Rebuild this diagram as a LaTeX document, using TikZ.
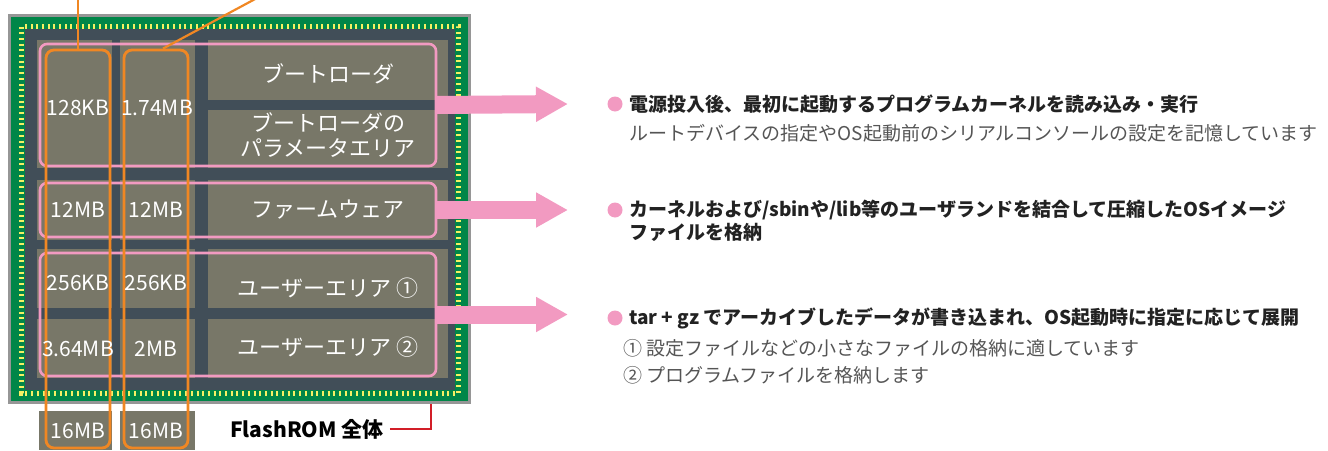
\documentclass[tikz,border=0pt]{standalone}
\usepackage{fontspec}
\setmainfont{Noto Sans CJK JP}
\usetikzlibrary{arrows.meta}
\definecolor{chipgreen}{RGB}{0,134,72}
\definecolor{chipedge}{RGB}{150,150,150}
\definecolor{chipdark}{RGB}{65,78,88}
\definecolor{cellc}{RGB}{120,119,104}
\definecolor{dotc}{RGB}{246,240,100}
\definecolor{pinkc}{RGB}{242,154,193}
\definecolor{orangec}{RGB}{240,135,35}
\definecolor{redc}{RGB}{210,30,40}
\definecolor{txtdark}{RGB}{34,34,34}
\definecolor{txtlight}{RGB}{85,85,85}
\begin{document}
\begin{tikzpicture}[x=1pt,y=-1pt,
  pinkbox/.style={draw=pinkc, line width=2.6pt, rounded corners=7pt, inner sep=0pt},
  orangebox/.style={draw=orangec, line width=2.8pt, rounded corners=8pt, inner sep=0pt},
  celltxt/.style={text=white, inner sep=0pt, font=\fontsize{22}{26}\selectfont},
  numtxt/.style={text=white, inner sep=0pt, font=\fontsize{21}{25}\selectfont},
  headtxt/.style={text=txtdark, anchor=west, inner sep=0pt, font=\fontsize{19}{23}\selectfont\bfseries},
  subtxt/.style={text=txtlight, anchor=west, inner sep=0pt, font=\fontsize{19}{23}\selectfont},
  bigarrow/.style={draw=pinkc, line width=18pt, -{Triangle[length=32pt,width=33pt]}},
  bullet/.style={circle, fill=pinkc, minimum size=15pt, inner sep=0pt}]
\useasboundingbox (0,0) rectangle (1328,450);

% chip body
\node[draw=chipedge, line width=3pt, fill=chipgreen, minimum width=460pt, minimum height=387pt, inner sep=0pt] (chip) at (239.5,209) {};
\draw[dotc, line width=5pt, dash pattern=on 2pt off 3.7pt] (21.5,26.5) rectangle (458.5,393);
\fill[chipdark] (25,29) rectangle (455,390);

% cells
\fill[cellc] (37,40) rectangle (112,168);
\fill[cellc] (120,40) rectangle (195,168);
\fill[cellc] (208,40) rectangle (448,100);
\fill[cellc] (208,110) rectangle (448,168);
\fill[cellc] (37,180) rectangle (112,240);
\fill[cellc] (120,180) rectangle (195,240);
\fill[cellc] (208,180) rectangle (448,240);
\fill[cellc] (37,249) rectangle (112,308);
\fill[cellc] (120,249) rectangle (195,308);
\fill[cellc] (208,249) rectangle (448,308);
\fill[cellc] (37,319) rectangle (112,378);
\fill[cellc] (120,319) rectangle (195,378);
\fill[cellc] (208,319) rectangle (448,378);
\fill[cellc] (39,411) rectangle (112,450);
\fill[cellc] (120,411) rectangle (195,450);

% pink groups
\node[pinkbox, minimum width=396pt, minimum height=122pt] (bA) at (238,105) {};
\node[pinkbox, minimum width=396pt, minimum height=54pt] (bB) at (238,210) {};
\node[pinkbox, minimum width=396pt, minimum height=123pt] (bC) at (238,314.5) {};

% orange columns
\node[orangebox, minimum width=64pt, minimum height=398pt] (o1) at (78,249) {};
\node[orangebox, minimum width=64pt, minimum height=398pt] (o2) at (156,249) {};
\coordinate (o1top) at (78,-2);
\coordinate (o2top) at (257,-2);
\draw[orangec, line width=2.2pt] (o1.north) -- (o1top);
\draw[orangec, line width=2.2pt] ([xshift=7pt]o2.north) -- (o2top);

% cell labels
\node[celltxt] (lboot) at (328,74) {ブートローダ};
\node[celltxt] (lpar1) at (328,123) {ブートローダの};
\node[celltxt] (lpar2) at (328,148) {パラメータエリア};
\node[celltxt] (lfw) at (328,210) {ファームウェア};
\node[celltxt] (lu1) at (328,288) {ユーザーエリア ①};
\node[celltxt] (lu2) at (328,347) {ユーザーエリア ②};

\node[numtxt] (n1) at (78,108) {128KB};
\node[numtxt] (n2) at (157,108) {1.74MB};
\node[numtxt] (n3) at (78,210) {12MB};
\node[numtxt] (n4) at (156,210) {12MB};
\node[numtxt] (n5) at (78,283) {256KB};
\node[numtxt] (n6) at (156,283) {256KB};
\node[numtxt] (n7) at (78,349) {3.64MB};
\node[numtxt] (n8) at (156,349) {2MB};
\node[numtxt] (n9) at (78,431) {16MB};
\node[numtxt] (n10) at (156,431) {16MB};

% FlashROM label
\node[text=black, inner sep=0pt, anchor=west, font=\fontsize{21}{25}\selectfont\bfseries] (flash) at (230,429) {FlashROM 全体};
\coordinate (rc) at (431,404);
\draw[redc, line width=1.3pt] ([xshift=6pt]flash.east) -| (rc);

% arrows
\coordinate (a1) at (568,104);
\coordinate (a2) at (568,210);
\coordinate (a3) at (568,314.5);
\draw[bigarrow] ([xshift=-2pt]bA.east) -- (a1);
\draw[bigarrow] ([xshift=-2pt]bB.east) -- (a2);
\draw[bigarrow] ([xshift=-2pt]bC.east) -- (a3);

% descriptions
\node[bullet] (d1) at (615,104) {};
\node[headtxt] (t1) at (629,104) {電源投入後、最初に起動するプログラムカーネルを読み込み・実行};
\node[subtxt] (t2) at (629,133) {ルートデバイスの指定やOS起動前のシリアルコンソールの設定を記憶しています};
\node[bullet] (d2) at (615,210) {};
\node[headtxt] (t3) at (629,210) {カーネルおよび/sbinや/lib等のユーザランドを結合して圧縮したOSイメージ};
\node[headtxt] (t4) at (629,232) {ファイルを格納};
\node[bullet] (d3) at (615,318) {};
\node[headtxt] (t5) at (629,318) {tar + gz でアーカイブしたデータが書き込まれ、OS起動時に指定に応じて展開};
\node[subtxt] (t6) at (623,348) {① 設定ファイルなどの小さなファイルの格納に適しています};
\node[subtxt] (t7) at (623,375) {② プログラムファイルを格納します};
\end{tikzpicture}
\end{document}
